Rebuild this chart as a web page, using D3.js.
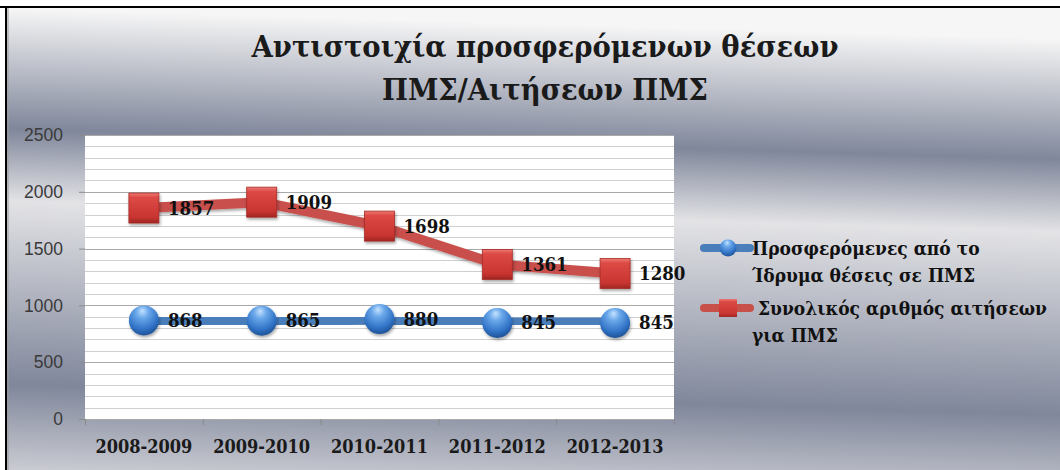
<!DOCTYPE html>
<html>
<head>
<meta charset="utf-8">
<script src="https://cdn.jsdelivr.net/npm/d3@7"></script>
<style>
  body { margin: 0; background: #fff; }
  svg { display: block; }
  .serif { font-family: 'DejaVu Serif Condensed', 'DejaVu Serif', serif; font-stretch: condensed; font-weight: bold; }
</style>
</head>
<body>
<script>
// data
var years = ["2008-2009", "2009-2010", "2010-2011", "2011-2012", "2012-2013"];
var offered = [868, 865, 880, 845, 845];
var applications = [1857, 1909, 1698, 1361, 1280];
var yTicks = [0, 500, 1000, 1500, 2000, 2500];
var titleLines = ["Αντιστοιχία προσφερόμενων θέσεων", "ΠΜΣ/Αιτήσεων ΠΜΣ"];
var legendOffered = ["Προσφερόμενες από το", "Ίδρυμα θέσεις σε ΠΜΣ"];
var legendApps = [" Συνολικός αριθμός αιτήσεων", "για ΠΜΣ"];

var W = 1060, H = 470;
var plot = {left: 85, right: 674, top: 135, bottom: 419};

var svg = d3.select("body").append("svg")
    .attr("width", W)
    .attr("height", H);

var defs = svg.append("defs");

// background gradient, slightly tilted like the office "silver" fill
var bg = defs.append("linearGradient")
    .attr("id", "bg")
    .attr("gradientUnits", "userSpaceOnUse")
    .attr("x1", 0).attr("y1", 8)
    .attr("x2", -14).attr("y2", 490);
[[0, "#f6f6f6"], [0.25, "#80879b"], [0.40, "#e3e3e6"], [0.78, "#80879b"], [1, "#dcdce0"]]
    .forEach(function(s){
        bg.append("stop").attr("offset", s[0]).attr("stop-color", s[1]);
    });

var redGrad = defs.append("linearGradient")
    .attr("id", "redSq").attr("x1", 0).attr("y1", 0).attr("x2", 0).attr("y2", 1);
[[0, "#ee7a74"], [0.15, "#dc4a44"], [0.8, "#c93531"], [1, "#9f2622"]].forEach(function(s){
    redGrad.append("stop").attr("offset", s[0]).attr("stop-color", s[1]);
});

var blueGrad = defs.append("radialGradient")
    .attr("id", "blueBall").attr("cx", "45%").attr("cy", "30%").attr("r", "70%")
    .attr("fx", "45%").attr("fy", "18%");
[[0, "#c5e2ff"], [0.3, "#6aa8ea"], [0.75, "#3173c6"], [1, "#1f5296"]].forEach(function(s){
    blueGrad.append("stop").attr("offset", s[0]).attr("stop-color", s[1]);
});

var shadow = defs.append("filter").attr("id", "shadow")
    .attr("x", "-30%").attr("y", "-30%").attr("width", "160%").attr("height", "160%");
shadow.append("feDropShadow")
    .attr("dx", 1).attr("dy", 2).attr("stdDeviation", 1.5)
    .attr("flood-color", "#000").attr("flood-opacity", 0.35);

// frame
svg.append("rect")
    .attr("x", 6).attr("y", 7)
    .attr("width", W - 6).attr("height", H - 7)
    .attr("fill", "url(#bg)");
svg.append("line")
    .attr("x1", 0).attr("x2", W).attr("y1", 7).attr("y2", 7)
    .attr("stroke", "#000").attr("stroke-width", 2);
svg.append("line")
    .attr("x1", 6).attr("x2", 6).attr("y1", 7).attr("y2", H)
    .attr("stroke", "#000").attr("stroke-width", 2);
svg.append("line")
    .attr("x1", 8).attr("x2", 8).attr("y1", 8).attr("y2", H)
    .attr("stroke", "#9a9a9a").attr("stroke-width", 1);

// title
svg.append("text")
    .attr("class", "serif")
    .attr("x", 545)
    .attr("text-anchor", "middle")
    .style("font-size", "30.5px")
    .attr("fill", "#1a1a1a")
    .selectAll("tspan")
    .data(titleLines)
    .enter()
    .append("tspan")
    .attr("x", 545)
    .attr("y", function(d, i){ return 57 + i * 43; })
    .text(function(d){ return d; });

// scales
var x = d3.scaleBand()
    .domain(years)
    .range([plot.left, plot.right]);

var y = d3.scaleLinear()
    .domain([0, 2500])
    .range([plot.bottom, plot.top]);

function cx(i){ return x(years[i]) + x.bandwidth() / 2; }

svg.append("rect")
    .attr("x", plot.left).attr("y", plot.top)
    .attr("width", plot.right - plot.left)
    .attr("height", plot.bottom - plot.top)
    .attr("fill", "#fff");

// gridlines every 100
svg.append("g")
    .selectAll("line")
    .data(y.ticks(25))
    .enter()
    .append("line")
    .attr("x1", plot.left).attr("x2", plot.right)
    .attr("y1", function(d){ return Math.round(y(d)) + 0.5; })
    .attr("y2", function(d){ return Math.round(y(d)) + 0.5; })
    .attr("stroke", function(d){ return d % 500 === 0 ? "#a9a9a9" : "#cfcfcf"; })
    .attr("stroke-width", 1.2);

// y axis
var yAxis = svg.append("g")
    .attr("transform", "translate(" + plot.left + ",0)")
    .call(d3.axisLeft(y).tickValues(yTicks).tickFormat(d3.format("d")).tickSize(6).tickPadding(16));
yAxis.select(".domain").remove();
yAxis.selectAll(".tick line").attr("stroke", "#8a8a8a");
yAxis.selectAll("text")
    .style("font-family", "'Liberation Sans', Arial, sans-serif")
    .style("font-size", "17.5px")
    .attr("fill", "#3a3a3a");

// x axis: labels at band centres, ticks at band edges like excel
var xAxis = svg.append("g")
    .attr("transform", "translate(0," + plot.bottom + ")")
    .call(d3.axisBottom(x).tickSize(0).tickPadding(21));
xAxis.select(".domain").remove();
xAxis.selectAll("text")
    .attr("class", "serif")
    .style("font-size", "18px")
    .attr("fill", "#1a1a1a");

svg.append("g")
    .selectAll("line")
    .data(years.concat(["end"]))
    .enter()
    .append("line")
    .attr("x1", function(d, i){ return plot.left + i * x.bandwidth() + 0.5; })
    .attr("x2", function(d, i){ return plot.left + i * x.bandwidth() + 0.5; })
    .attr("y1", plot.bottom).attr("y2", plot.bottom + 6)
    .attr("stroke", "#8a8a8a");

// lines
var line = d3.line()
    .x(function(d, i){ return cx(i); })
    .y(function(d){ return y(d); });

svg.append("path")
    .datum(offered)
    .attr("d", line)
    .attr("fill", "none")
    .attr("stroke", "#4a7ebb")
    .attr("stroke-width", 11)
    .attr("filter", "url(#shadow)");

svg.append("path")
    .datum(applications)
    .attr("d", line)
    .attr("fill", "none")
    .attr("stroke", "#c8504b")
    .attr("stroke-width", 10)
    .attr("filter", "url(#shadow)");

// markers
svg.append("g")
    .selectAll("circle")
    .data(offered)
    .enter()
    .append("circle")
    .attr("cx", function(d, i){ return cx(i); })
    .attr("cy", function(d){ return y(d); })
    .attr("r", 15)
    .attr("fill", "url(#blueBall)")
    .attr("filter", "url(#shadow)");

svg.append("g")
    .selectAll("rect")
    .data(applications)
    .enter()
    .append("rect")
    .attr("x", function(d, i){ return cx(i) - 15; })
    .attr("y", function(d){ return y(d) - 15; })
    .attr("width", 30)
    .attr("height", 30)
    .attr("fill", "url(#redSq)")
    .attr("stroke", "#a42c28")
    .attr("stroke-width", 0.8)
    .attr("filter", "url(#shadow)");

// data labels
function addLabels(data){
    svg.append("g")
        .selectAll("text")
        .data(data)
        .enter()
        .append("text")
        .attr("class", "serif")
        .attr("x", function(d, i){ return cx(i) + 24; })
        .attr("y", function(d){ return y(d); })
        .attr("dy", "0.35em")
        .style("font-size", "18.5px")
        .attr("fill", "#111")
        .text(function(d){ return d; });
}
addLabels(offered);
addLabels(applications);

// legend
var legend = svg.append("g");

function legendItem(lines, yc, color, isBall){
    legend.append("line")
        .attr("x1", 704).attr("x2", 750)
        .attr("y1", yc).attr("y2", yc)
        .attr("stroke", color)
        .attr("stroke-width", 8)
        .attr("stroke-linecap", "round");
    if (isBall) {
        legend.append("circle")
            .attr("cx", 728).attr("cy", yc).attr("r", 8.5)
            .attr("fill", "url(#blueBall)");
    } else {
        legend.append("rect")
            .attr("x", 719).attr("y", yc - 9)
            .attr("width", 18).attr("height", 18)
            .attr("fill", "url(#redSq)");
    }
    legend.append("text")
        .attr("class", "serif")
        .style("font-size", "19px")
        .attr("fill", "#111")
        .attr("xml:space", "preserve")
        .selectAll("tspan")
        .data(lines)
        .enter()
        .append("tspan")
        .attr("x", 752)
        .attr("y", function(d, i){ return yc + 7 + i * 27; })
        .text(function(d){ return d; });
}
legendItem(legendOffered, 248, "#4a7ebb", true);
legendItem(legendApps, 308, "#c8504b", false);
</script>
</body>
</html>
